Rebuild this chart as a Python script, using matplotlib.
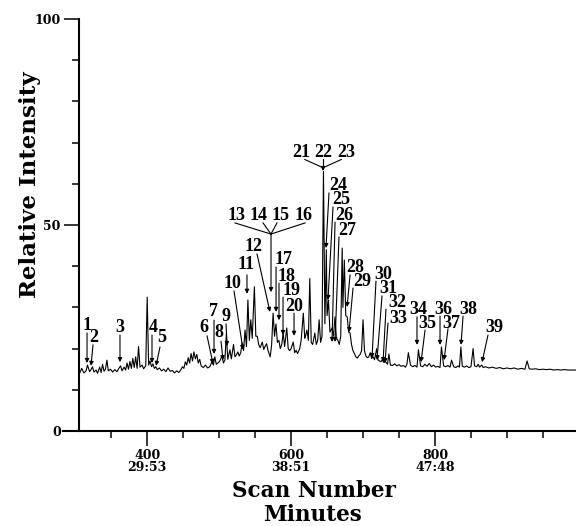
import matplotlib
matplotlib.use('Agg')
import matplotlib.pyplot as plt
from matplotlib.ticker import FixedLocator

# ---- chromatogram trace (vertices) ----
scan = [306, 309, 312, 315, 317, 320, 322, 324, 326, 329, 331, 334, 336, 338, 340, 342, 344, 346,
        349, 352, 355, 358, 361, 363, 365, 368, 370, 372, 374, 376, 378, 380, 382, 384, 386, 388,
        390, 393, 395, 398, 400, 402, 404, 406, 408, 410, 412, 414, 417, 420, 423, 426, 429, 432,
        435, 438, 441, 444, 447, 449, 451, 453, 455, 457, 459, 461, 463, 465, 467, 469, 471, 473,
        475, 478, 481, 484, 487, 490, 492, 494, 496, 499, 501, 504, 506, 508, 510, 512, 515, 517,
        520, 522, 524, 526, 528, 530, 532, 534, 536, 538, 540, 542, 544, 546, 549, 551, 553, 555,
        557, 560, 562, 564, 566, 568, 571, 573, 575, 577, 579, 581, 583, 585, 587, 589, 591, 594,
        596, 598, 600, 603, 605, 607, 609, 612, 614, 617, 619, 620, 622, 624, 626, 628, 630, 633,
        635, 637, 639, 641, 643, 645, 647, 649, 650, 652, 654, 657, 659, 661, 663, 665, 667, 669,
        671, 672, 674, 676, 678, 680, 682, 684, 686, 688, 690, 692, 694, 696, 698, 700, 702, 704,
        706, 708, 710, 712, 714, 716, 719, 721, 723, 725, 727, 729, 731, 734, 736, 738, 741, 744,
        747, 750, 753, 756, 759, 761, 763, 766, 769, 772, 775, 777, 780, 783, 786, 789, 792, 795,
        798, 801, 804, 807, 809, 812, 815, 818, 821, 823, 826, 829, 832, 834, 836, 838, 841, 844,
        847, 850, 853, 855, 858, 860, 862, 865, 867, 870, 875, 880, 885, 890, 895, 900, 905, 910,
        915, 920, 925, 928, 931, 935, 940, 945, 950, 955, 960, 965, 970, 975, 980, 985, 990, 996]
intensity = [14.0, 15.2, 14.1, 14.6, 16.0, 14.4, 14.9, 15.6, 14.3, 14.8, 14.0, 15.5, 14.2, 16.2,
             14.5, 15.0, 17.2, 14.6, 15.0, 14.3, 14.9, 14.4, 15.3, 15.8, 14.6, 15.5, 14.8, 16.5,
             15.0, 16.9, 15.2, 17.6, 15.4, 18.0, 15.2, 20.5, 15.5, 16.0, 15.1, 15.8, 32.5, 16.0,
             17.0, 15.6, 16.3, 15.2, 15.6, 14.9, 15.3, 14.6, 15.0, 14.4, 15.3, 14.5, 14.7, 14.1,
             14.6, 14.2, 14.9, 15.6, 15.2, 16.8, 16.0, 17.8, 16.5, 18.8, 17.0, 19.2, 17.5, 18.6,
             16.5, 17.4, 15.8, 15.4, 16.0, 15.3, 15.6, 16.8, 16.0, 18.0, 16.2, 16.6, 17.0, 18.2,
             16.5, 17.2, 23.5, 17.4, 19.7, 17.5, 21.0, 18.0, 18.5, 19.2, 18.2, 19.0, 21.4, 19.5,
             24.5, 20.5, 31.8, 22.0, 27.0, 22.5, 35.0, 23.0, 23.0, 21.0, 20.2, 21.6, 19.8, 20.6,
             21.2, 19.5, 18.0, 21.0, 28.6, 23.0, 26.0, 21.5, 22.0, 20.0, 21.0, 23.8, 20.5, 25.0,
             20.0, 19.5, 20.0, 21.6, 19.0, 19.6, 18.8, 20.0, 22.0, 28.6, 22.5, 23.0, 24.5, 22.0,
             37.0, 21.5, 21.0, 23.8, 21.0, 22.0, 27.0, 21.5, 23.0, 63.0, 26.0, 44.0, 28.0, 31.8,
             24.0, 25.0, 23.0, 27.7, 22.5, 22.0, 21.0, 23.0, 44.4, 30.0, 41.5, 28.0, 27.7, 24.0,
             23.8, 21.0, 19.5, 18.8, 18.0, 17.7, 18.2, 18.6, 19.5, 27.0, 19.5, 18.2, 17.8, 18.0,
             19.0, 17.6, 18.0, 17.3, 20.0, 17.2, 17.0, 16.8, 17.4, 16.6, 16.9, 16.2, 18.7, 16.0,
             15.9, 16.3, 15.8, 16.1, 15.7, 15.9, 15.5, 16.2, 19.0, 16.0, 15.6, 15.9, 15.5, 19.7,
             15.8, 15.6, 16.2, 15.7, 16.4, 15.6, 16.0, 15.5, 15.7, 15.4, 20.4, 15.8, 15.6, 15.9,
             15.5, 17.2, 15.6, 15.4, 15.8, 15.5, 20.4, 15.7, 15.5, 15.8, 15.4, 15.6, 20.0, 15.8,
             15.6, 16.2, 15.5, 16.0, 15.4, 15.6, 15.3, 15.5, 15.2, 15.4, 15.1, 15.3, 15.1, 15.3,
             15.0, 15.2, 15.0, 17.0, 15.1, 15.0, 15.1, 14.9, 15.0, 14.9, 15.0, 14.8, 14.9, 14.8,
             14.9, 14.8, 14.8, 14.8]

# ---- axis ticks ----
x_major = [400, 600, 800]
x_major_labels = ['400\n29:53', '600\n38:51', '800\n47:48']
x_minor = [350, 450, 500, 550, 650, 700, 750, 850, 900, 950]
y_major = [0, 50, 100]
y_minor = [10, 20, 30, 40, 60, 70, 80, 90]

# ---- peak labels: (label, text position, arrow start, arrow tip) in data units ----
single_labels = [
    ('1', (316.4, 25.7), (316.4, 23.8), (316.4, 16.5)),
    ('2', (326.1, 22.6), (324.7, 20.9), (321.9, 15.8)),
    ('3', (362.2, 25.2), (362.2, 23.3), (362.2, 16.7)),
    ('4', (408.1, 25.2), (406.7, 23.3), (406.7, 16.5)),
    ('5', (420.6, 22.6), (417.8, 20.4), (412.3, 15.8)),
    ('6', (479.0, 25.0), (483.2, 23.1), (491.5, 16.3)),
    ('7', (491.5, 28.9), (492.9, 26.9), (492.9, 18.7)),
    ('8', (499.8, 23.8), (502.6, 21.8), (505.4, 17.2)),
    ('9', (509.6, 27.9), (509.6, 26.0), (511.0, 20.6)),
    ('10', (517.9, 35.9), (520.7, 34.0), (533.2, 19.7)),
    ('11', (537.4, 40.3), (538.7, 37.9), (538.7, 33.3)),
    ('12', (547.1, 44.9), (552.6, 43.0), (570.7, 28.9)),
    ('17', (588.8, 41.7), (579.1, 39.8), (579.1, 28.9)),
    ('18', (594.3, 37.6), (583.2, 35.9), (583.2, 26.9)),
    ('19', (601.3, 34.0), (588.8, 32.5), (588.8, 23.3)),
    ('20', (604.1, 30.3), (604.1, 28.6), (604.1, 23.1)),
    ('24', (665.2, 59.7), (652.7, 57.8), (648.5, 44.4)),
    ('25', (669.4, 56.1), (658.3, 54.4), (651.3, 31.8)),
    ('26', (673.6, 52.3), (661.1, 50.7), (656.9, 21.6)),
    ('27', (677.8, 48.6), (666.6, 47.1), (661.1, 21.6)),
    ('28', (688.9, 39.8), (682.0, 37.9), (677.8, 30.1)),
    ('29', (698.6, 36.2), (686.1, 34.7), (680.5, 24.0)),
    ('30', (727.8, 38.1), (718.0, 36.4), (712.5, 17.7)),
    ('31', (734.7, 34.5), (726.4, 32.8), (719.4, 17.2)),
    ('32', (747.2, 31.1), (731.9, 29.6), (727.8, 16.7)),
    ('33', (748.6, 27.4), (734.7, 26.2), (730.5, 16.5)),
    ('34', (776.4, 29.6), (775.0, 27.7), (775.0, 20.9)),
    ('35', (789.0, 26.2), (786.2, 24.5), (780.6, 16.7)),
    ('36', (811.2, 29.6), (807.0, 27.9), (807.0, 20.9)),
    ('37', (822.3, 26.2), (818.1, 24.8), (812.6, 17.2)),
    ('38', (845.9, 29.6), (839.0, 27.9), (836.2, 20.9)),
    ('39', (882.1, 25.2), (873.7, 23.3), (865.4, 16.7)),
]
# grouped labels: labels, text positions, line starts, junction, arrow tip
group_a = (['13', '14', '15', '16'],
           [(523.5, 52.4), (555.4, 52.4), (586.0, 52.4), (616.6, 52.4)],
           [(522.1, 50.5), (561.0, 50.5), (580.4, 50.5), (619.4, 50.5)],
           (572.1, 47.8), (572.1, 33.7))
group_b = (['21', '22', '23'],
           [(613.8, 67.7), (644.4, 67.7), (676.4, 67.7)],
           [(619.0, 65.9), (644.4, 65.9), (669.8, 65.9)],
           (644.4, 63.9), (644.4, 63.1))

# ---------------------------------------------------------------
fig = plt.figure(figsize=(5.76, 5.26), dpi=100)
ax = fig.add_axes([63 / 576, 1 - 431 / 526, 513 / 576, 412 / 526])
ax.plot(scan, intensity, color='black', lw=0.8)
ax.set_xlim(283, 996)
ax.set_ylim(0, 100)

for s in ['top', 'right']:
    ax.spines[s].set_visible(False)
ax.spines['left'].set_position(('data', 305))
for s in ['left', 'bottom']:
    ax.spines[s].set_linewidth(1.5)

tick_font = dict(family='DejaVu Serif', weight='bold', size=9)
ax.xaxis.set_major_locator(FixedLocator(x_major))
ax.xaxis.set_minor_locator(FixedLocator(x_minor))
ax.set_xticklabels(x_major_labels, fontdict=tick_font, linespacing=0.9)
ax.yaxis.set_major_locator(FixedLocator(y_major))
ax.yaxis.set_minor_locator(FixedLocator(y_minor))
ax.set_yticklabels([str(v) for v in y_major], fontdict=tick_font)
ax.tick_params(which='major', direction='out', length=10.5, width=1.1, pad=2.5)
ax.tick_params(which='minor', direction='out', length=5, width=1.1)

lab_font = dict(family='Liberation Serif', weight='bold', size=13)
arrow = dict(arrowstyle='-|>', lw=0.8, color='black', mutation_scale=6,
             shrinkA=0, shrinkB=0)

for lab, tpos, start, tip in single_labels:
    ax.text(tpos[0], tpos[1], lab, ha='center', va='center', **lab_font)
    ax.annotate('', xy=tip, xytext=start, arrowprops=arrow)

for labels, tposs, starts, junction, tip in (group_a, group_b):
    for lab, tpos, st in zip(labels, tposs, starts):
        ax.text(tpos[0], tpos[1], lab, ha='center', va='center', **lab_font)
        ax.plot([st[0], junction[0]], [st[1], junction[1]], color='black', lw=0.8)
    ax.annotate('', xy=tip, xytext=junction, arrowprops=arrow)

axis_font = dict(family='DejaVu Serif', weight='bold', size=15.5)
fig.text(314 / 576, 1 - 491 / 526, 'Scan Number', ha='center', va='center', **axis_font)
fig.text(313 / 576, 1 - 515 / 526, 'Minutes', ha='center', va='center', **axis_font)
fig.text(30 / 576, 1 - 185 / 526, 'Relative Intensity', ha='center', va='center',
         rotation=90, family='DejaVu Serif', weight='bold', size=16.5)

fig.savefig('out.png', dpi=100)
